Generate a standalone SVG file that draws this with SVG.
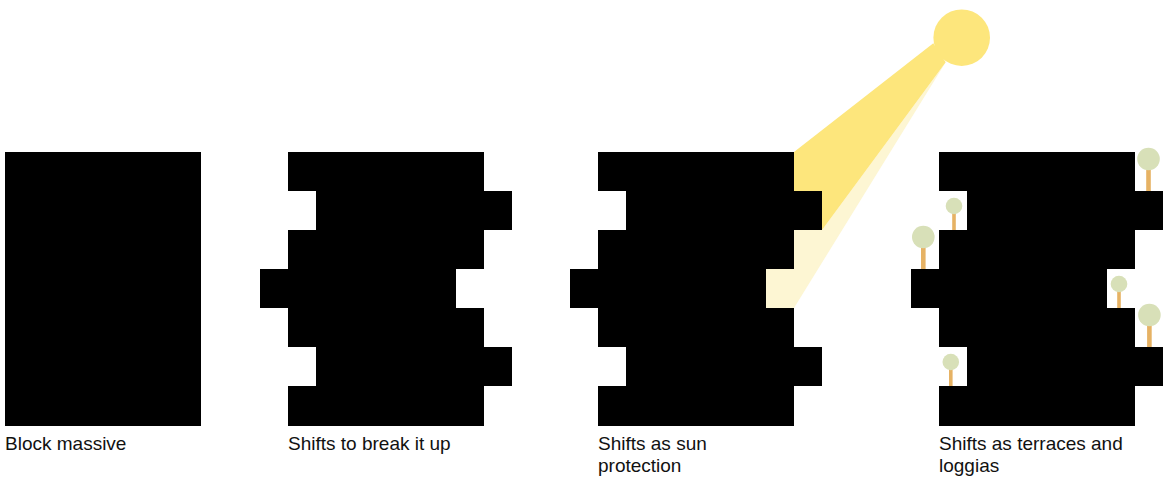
<svg xmlns="http://www.w3.org/2000/svg" xmlns:xlink="http://www.w3.org/1999/xlink" width="1170" height="480" viewBox="0 0 1170 480">
  <style>
    .mass { fill: #000; }
    .label { font-family: "Liberation Sans", Arial, sans-serif; font-size: 19px; fill: #111; }
    .sun { fill: #fde67c; }
    .ray-strong { fill: #fde67c; }
    .ray-soft { fill: #fdf6d3; }
    .crown { fill: #d8e0b8; }
    .trunk { fill: #e6b264; }
  </style>
  <defs>
    <!-- seven storeys, alternately shifted left and right -->
    <path id="stack" class="mass" d="M0,0 H196 V39 H224 V78 H196 V117 H168 V156 H196 V195 H224 V234 H196 V274 H0 V234 H28 V195 H0 V156 H-28 V117 H0 V78 H28 V39 H0 Z"/>
    <g id="tree-big">
      <rect class="trunk" x="-2.3" y="-32" width="4.6" height="32"/>
      <circle class="crown" cx="0" cy="-32" r="11.3"/>
    </g>
    <g id="tree-small">
      <rect class="trunk" x="-1.8" y="-24" width="3.6" height="24"/>
      <circle class="crown" cx="0" cy="-24" r="8.3"/>
    </g>
  </defs>

  <g id="block-massive">
    <rect class="mass" x="5" y="152" width="196" height="274"/>
    <text class="label" x="5" y="450">Block massive</text>
  </g>

  <g id="shifts-break">
    <use xlink:href="#stack" x="288" y="152"/>
    <text class="label" x="288" y="450">Shifts to break it up</text>
  </g>

  <g id="shifts-sun">
    <circle class="sun" cx="961.7" cy="37.7" r="28.3"/>
    <polygon class="ray-soft" points="945.7,62.3 822,230 794,230 794,269 766,269 766,308 794,308"/>
    <polygon class="ray-strong" points="933.3,43.3 794,152 794,191 822,191 822,230 945.7,62.3"/>
    <use xlink:href="#stack" x="598" y="152"/>
    <text class="label" x="598" y="450">Shifts as sun</text>
    <text class="label" x="598" y="472">protection</text>
  </g>

  <g id="shifts-terraces">
    <use xlink:href="#stack" x="939" y="152"/>
    <use xlink:href="#tree-big" x="1148.5" y="191"/>
    <use xlink:href="#tree-small" x="954" y="230"/>
    <use xlink:href="#tree-big" x="923.3" y="269"/>
    <use xlink:href="#tree-small" x="1119" y="308"/>
    <use xlink:href="#tree-big" x="1149.4" y="347"/>
    <use xlink:href="#tree-small" x="950.8" y="386"/>
    <text class="label" x="939" y="450">Shifts as terraces and</text>
    <text class="label" x="939" y="472">loggias</text>
  </g>

  <g id="connectors"/>
</svg>
